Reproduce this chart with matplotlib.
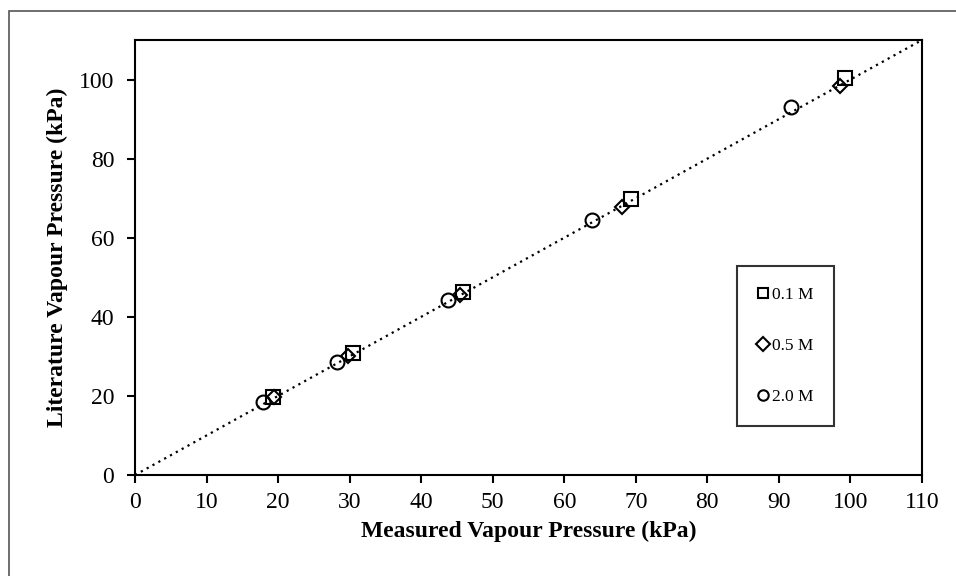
import matplotlib.pyplot as plt
from matplotlib.patches import Rectangle

plt.rcParams['font.family'] = ['Liberation Serif', 'DejaVu Serif']

# 0.1 M
meas_01 = [19.3, 30.5, 45.8, 69.3, 99.2]
lit_01 = [19.8, 30.8, 46.2, 69.8, 100.3]
# 0.5 M
meas_05 = [19.4, 29.8, 45.4, 68.1, 98.6]
lit_05 = [19.6, 30.1, 45.5, 67.7, 98.4]
# 2.0 M
meas_20 = [17.9, 28.2, 43.8, 63.9, 91.7]
lit_20 = [18.4, 28.6, 44.2, 64.4, 93.0]

x_ticks = list(range(0, 111, 10))
y_ticks = list(range(0, 101, 20))

fig = plt.figure(figsize=(9.56, 5.76), dpi=100)
ax = fig.add_axes([135/956, 1 - 475/576, (922 - 135)/956, (475 - 40)/576])

# outer frame of the chart area
fig.add_artist(Rectangle((9/956, -0.1), 1.2, 1 - 11/576 + 0.1, transform=fig.transFigure,
                         fill=False, edgecolor='#555555', linewidth=1.2))

ax.plot([0, 110], [0, 110], linestyle=(0, (1, 2)), color='black', linewidth=1.6, zorder=1)

mk = dict(linestyle='none', markerfacecolor='none', markeredgecolor='black', markeredgewidth=1.5)
ax.plot(meas_01, lit_01, marker='s', markersize=9.5, label='0.1 M', **mk)
ax.plot(meas_05, lit_05, marker='D', markersize=7, label='0.5 M', **mk)
ax.plot(meas_20, lit_20, marker='o', markersize=10, label='2.0 M', **mk)

ax.set_xlim(0, 110)
ax.set_ylim(0, 110)
ax.set_xticks(x_ticks)
ax.set_yticks(y_ticks)
ax.tick_params(direction='out', length=6, width=1.5, labelsize=17)
ax.tick_params(axis='x', pad=6)
ax.tick_params(axis='y', pad=9)
for s in ax.spines.values():
    s.set_linewidth(1.5)

ax.set_xlabel('Measured Vapour Pressure (kPa)', fontsize=17, fontweight='bold', labelpad=6)
ax.set_ylabel('Literature Vapour Pressure (kPa)', fontsize=17, fontweight='bold', labelpad=8)

leg = ax.legend(loc='upper left', bbox_to_anchor=((737-135)/787, 1 - (266-40)/435),
                fontsize=12.5, frameon=True, fancybox=False, borderpad=1.2,
                labelspacing=2.0, handlelength=0.6, handletextpad=0.2, borderaxespad=0)
leg.get_frame().set_edgecolor('black')
leg.get_frame().set_linewidth(1.5)
for h in leg.legend_handles:
    h.set_markersize(7.5)

fig.savefig('out.png', dpi=100)
